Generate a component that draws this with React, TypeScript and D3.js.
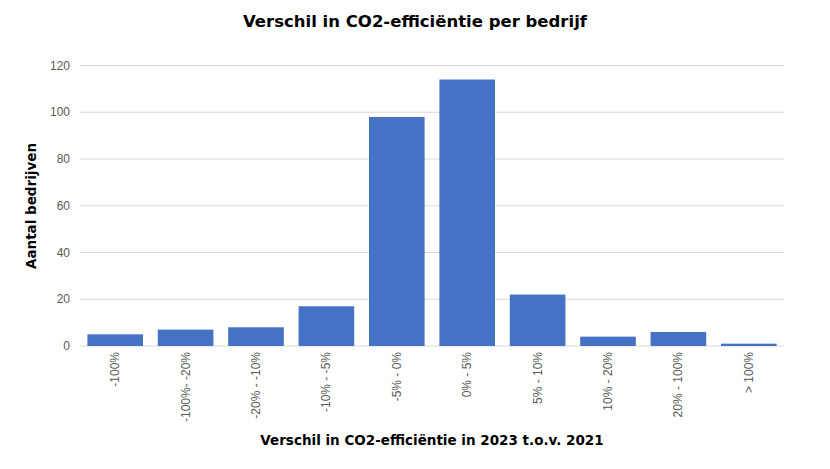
import React from "react";
import * as d3 from "d3";

const categories = ["-100%", "-100%- -20%", "-20% - -10%", "-10% - -5%", "-5% - 0%", "0% - 5%", "5% - 10%", "10% - 20%", "20% - 100%", "> 100%"];
const values = [5, 7, 8, 17, 98, 114, 22, 4, 6, 1];
const yTicks = [0, 20, 40, 60, 80, 100, 120];

export default function App() {
  const W = 830, H = 469;
  const left = 80, right = 784, top = 65.5, bottom = 346;
  const x = d3.scaleBand<string>().domain(categories).range([left, right]).paddingInner(0.21).paddingOuter(0.105);
  const y = d3.scaleLinear().domain([0, 120]).range([bottom, top]);
  const font = "'Liberation Sans', Arial, sans-serif";
  return (
    <svg width={W} height={H} style={{ position: "absolute", left: 0, top: 0, background: "#fff" }}>
      <text x={415} y={27} textAnchor="middle" fontFamily="'DejaVu Sans', Verdana, sans-serif" fontWeight="bold" fontSize={16.5} fill="#000">
        Verschil in CO2-efficiëntie per bedrijf
      </text>
      {yTicks.map((t) => (
        <g key={t}>
          <line x1={left} x2={right} y1={y(t)} y2={y(t)} stroke="#d9d9d9" strokeWidth={1} />
          <text x={70} y={y(t) + 4} textAnchor="end" fontFamily={font} fontSize={12} fill="#595959">{t}</text>
        </g>
      ))}
      {categories.map((c, i) => (
        <rect key={c} x={x(c)} y={y(values[i])} width={x.bandwidth()} height={y(0) - y(values[i])} fill="#4472C4" />
      ))}
      {categories.map((c) => {
        const cx = (x(c) as number) + x.bandwidth() / 2;
        return (
          <text key={c} transform={`translate(${cx + 4},352) rotate(-90)`} textAnchor="end" fontFamily={font} fontSize={12} fill="#595959">
            {c}
          </text>
        );
      })}
      <text x={432} y={445} textAnchor="middle" fontFamily="'DejaVu Sans', Verdana, sans-serif" fontWeight="bold" fontSize={13.5} fill="#000">
        Verschil in CO2-efficiëntie in 2023 t.o.v. 2021
      </text>
      <text transform={`translate(36,206) rotate(-90)`} textAnchor="middle" fontFamily="'DejaVu Sans', Verdana, sans-serif" fontWeight="bold" fontSize={13.5} fill="#000">
        Aantal bedrijven
      </text>
    </svg>
  );
}
